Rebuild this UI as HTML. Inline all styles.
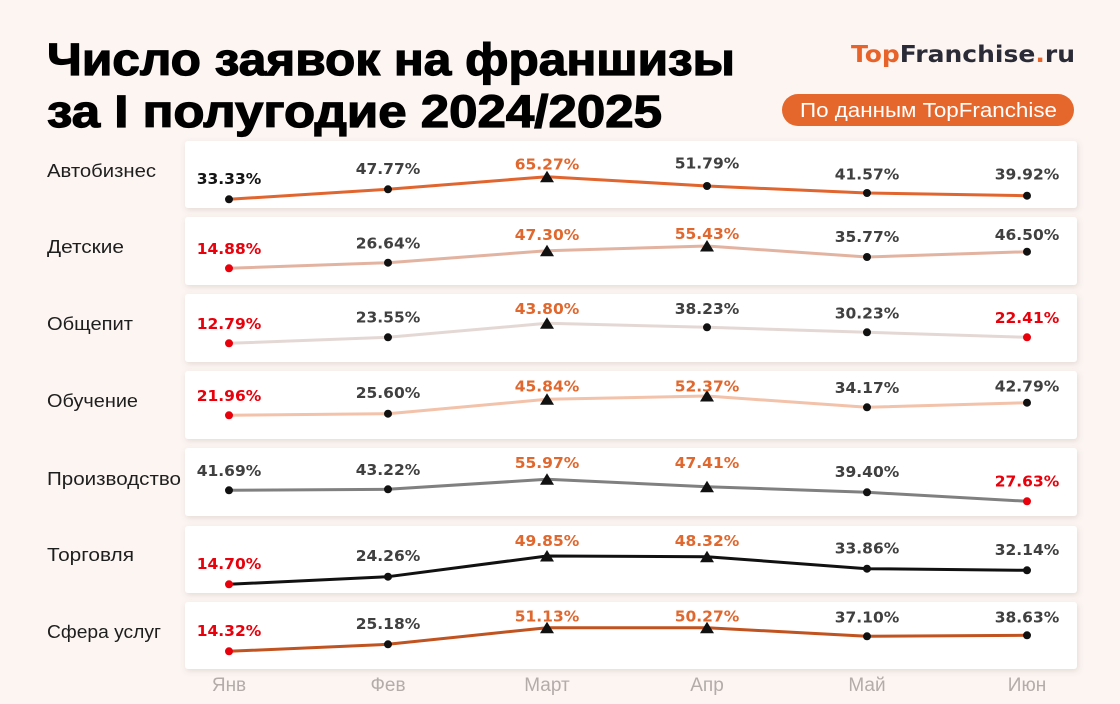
<!DOCTYPE html>
<html><head><meta charset="utf-8">
<style>
html,body{margin:0;padding:0;background:#fcf5f2;}
svg{display:block;}
</style></head>
<body>
<svg width="1120" height="704" viewBox="0 0 1120 704" xmlns="http://www.w3.org/2000/svg">
<defs>
<filter id="sh" x="-5%" y="-30%" width="110%" height="160%">
<feDropShadow dx="1" dy="2" stdDeviation="3" flood-color="#7a5a50" flood-opacity="0.18"/>
</filter>
</defs>
<rect width="1120" height="704" fill="#fcf5f2"/>

<!-- Title -->
<g font-family="'Liberation Sans', 'DejaVu Sans', sans-serif" font-weight="bold" fill="#000" stroke="#000" stroke-width="1.2">
<text x="47" y="75" font-size="45" textLength="688" lengthAdjust="spacingAndGlyphs">Число заявок на франшизы</text>
<text x="47" y="127" font-size="45" textLength="615" lengthAdjust="spacingAndGlyphs">за I полугодие 2024/2025</text>
</g>

<!-- Logo -->
<text x="851" y="62" font-family="'DejaVu Sans', 'Liberation Sans', sans-serif" font-weight="bold" font-size="23" textLength="224" lengthAdjust="spacingAndGlyphs" fill="#2b2b38"><tspan fill="#e8632a">Top</tspan>Franchise<tspan fill="#e8632a">.</tspan>ru</text>

<!-- Badge -->
<rect x="782" y="94" width="292" height="32" rx="16" fill="#e6672c"/>
<text x="800" y="117" font-family="'Liberation Sans', 'DejaVu Sans', sans-serif" font-size="20" fill="#fff" textLength="257" lengthAdjust="spacingAndGlyphs">По данным TopFranchise</text>

<!-- Panels -->
<g filter="url(#sh)" fill="#fff">
<rect x="185" y="141" width="892" height="67" rx="3"/>
<rect x="185" y="217" width="892" height="68" rx="3"/>
<rect x="185" y="294" width="892" height="68" rx="3"/>
<rect x="185" y="371" width="892" height="68" rx="3"/>
<rect x="185" y="448" width="892" height="68" rx="3"/>
<rect x="185" y="526" width="892" height="67" rx="3"/>
<rect x="185" y="602" width="892" height="67" rx="3"/>
</g>

<!-- Row labels -->
<g font-family="'Liberation Sans', 'DejaVu Sans', sans-serif" font-size="18" fill="#1e1e1e">
<text x="47" y="177" textLength="109" lengthAdjust="spacingAndGlyphs">Автобизнес</text>
<text x="47" y="253" textLength="77" lengthAdjust="spacingAndGlyphs">Детские</text>
<text x="47" y="330" textLength="86" lengthAdjust="spacingAndGlyphs">Общепит</text>
<text x="47" y="407" textLength="91" lengthAdjust="spacingAndGlyphs">Обучение</text>
<text x="47" y="485" textLength="134" lengthAdjust="spacingAndGlyphs">Производство</text>
<text x="47" y="561" textLength="87" lengthAdjust="spacingAndGlyphs">Торговля</text>
<text x="47" y="638" textLength="114" lengthAdjust="spacingAndGlyphs">Сфера услуг</text>
</g>

<!-- Lines -->
<g fill="none" stroke-width="3" stroke-linejoin="round" stroke-linecap="round">
<polyline stroke="#e0652f" points="229,199.3 388,189.3 547,176.7 707,186 867,193 1027,195.7"/>
<polyline stroke="#e3b3a1" points="229,268.3 388,262.7 547,250.7 707,246 867,257 1027,251.7"/>
<polyline stroke="#e4d8d4" points="229,343.3 388,337.3 547,323.3 707,327.3 867,332.3 1027,337.3"/>
<polyline stroke="#f2c2aa" points="229,415.3 388,413.7 547,399.3 707,396 867,407.3 1027,402.7"/>
<polyline stroke="#808080" points="229,490.3 388,489.3 547,479.3 707,486.7 867,492.3 1027,501.3"/>
<polyline stroke="#111111" points="229,584.3 388,576.7 547,556 707,556.7 867,568.7 1027,570.3"/>
<polyline stroke="#c0531f" points="229,651.3 388,644.3 547,627.7 707,627.7 867,636.3 1027,635.3"/>
</g>

<!-- Markers -->
<g fill="#111">
<!-- panel 1 -->
<circle cx="229" cy="199.3" r="4"/><circle cx="388" cy="189.3" r="4"/>
<polygon points="547,170.7 554,182.2 540,182.2"/>
<circle cx="707" cy="186" r="4"/><circle cx="867" cy="193" r="4"/><circle cx="1027" cy="195.7" r="4"/>
<!-- panel 2 -->
<circle cx="229" cy="268.3" r="4" fill="#e8000b"/><circle cx="388" cy="262.7" r="4"/>
<polygon points="547,244.7 554,256.2 540,256.2"/>
<polygon points="707,240 714,251.5 700,251.5"/>
<circle cx="867" cy="257" r="4"/><circle cx="1027" cy="251.7" r="4"/>
<!-- panel 3 -->
<circle cx="229" cy="343.3" r="4" fill="#e8000b"/><circle cx="388" cy="337.3" r="4"/>
<polygon points="547,317.3 554,328.8 540,328.8"/>
<circle cx="707" cy="327.3" r="4"/><circle cx="867" cy="332.3" r="4"/>
<circle cx="1027" cy="337.3" r="4" fill="#e8000b"/>
<!-- panel 4 -->
<circle cx="229" cy="415.3" r="4" fill="#e8000b"/><circle cx="388" cy="413.7" r="4"/>
<polygon points="547,393.3 554,404.8 540,404.8"/>
<polygon points="707,390 714,401.5 700,401.5"/>
<circle cx="867" cy="407.3" r="4"/><circle cx="1027" cy="402.7" r="4"/>
<!-- panel 5 -->
<circle cx="229" cy="490.3" r="4"/><circle cx="388" cy="489.3" r="4"/>
<polygon points="547,473.3 554,484.8 540,484.8"/>
<polygon points="707,480.7 714,492.2 700,492.2"/>
<circle cx="867" cy="492.3" r="4"/>
<circle cx="1027" cy="501.3" r="4" fill="#e8000b"/>
<!-- panel 6 -->
<circle cx="229" cy="584.3" r="4" fill="#e8000b"/><circle cx="388" cy="576.7" r="4"/>
<polygon points="547,550 554,561.5 540,561.5"/>
<polygon points="707,550.7 714,562.2 700,562.2"/>
<circle cx="867" cy="568.7" r="4"/><circle cx="1027" cy="570.3" r="4"/>
<!-- panel 7 -->
<circle cx="229" cy="651.3" r="4" fill="#e8000b"/><circle cx="388" cy="644.3" r="4"/>
<polygon points="547,621.7 554,633.2 540,633.2"/>
<polygon points="707,621.7 714,633.2 700,633.2"/>
<circle cx="867" cy="636.3" r="4"/><circle cx="1027" cy="635.3" r="4"/>
</g>

<!-- Value labels -->
<g font-family="'DejaVu Sans', 'Liberation Sans', sans-serif" font-weight="bold" font-size="15.5" text-anchor="middle" fill="#404040">
<!-- panel 1 -->
<text x="229" y="184" fill="#141414">33.33%</text>
<text x="388" y="174">47.77%</text>
<text x="547" y="169.5" fill="#e0682f">65.27%</text>
<text x="707" y="168.5">51.79%</text>
<text x="867" y="179.5">41.57%</text>
<text x="1027" y="179.5">39.92%</text>
<!-- panel 2 -->
<text x="229" y="254" fill="#e8000b">14.88%</text>
<text x="388" y="248.5">26.64%</text>
<text x="547" y="240" fill="#e0682f">47.30%</text>
<text x="707" y="239" fill="#e0682f">55.43%</text>
<text x="867" y="242">35.77%</text>
<text x="1027" y="240">46.50%</text>
<!-- panel 3 -->
<text x="229" y="329" fill="#e8000b">12.79%</text>
<text x="388" y="322.5">23.55%</text>
<text x="547" y="314" fill="#e0682f">43.80%</text>
<text x="707" y="314">38.23%</text>
<text x="867" y="318.5">30.23%</text>
<text x="1027" y="323" fill="#e8000b">22.41%</text>
<!-- panel 4 -->
<text x="229" y="401" fill="#e8000b">21.96%</text>
<text x="388" y="398">25.60%</text>
<text x="547" y="391.5" fill="#e0682f">45.84%</text>
<text x="707" y="391.5" fill="#e0682f">52.37%</text>
<text x="867" y="393">34.17%</text>
<text x="1027" y="391.5">42.79%</text>
<!-- panel 5 -->
<text x="229" y="476">41.69%</text>
<text x="388" y="475">43.22%</text>
<text x="547" y="468" fill="#e0682f">55.97%</text>
<text x="707" y="468" fill="#e0682f">47.41%</text>
<text x="867" y="477">39.40%</text>
<text x="1027" y="486.5" fill="#e8000b">27.63%</text>
<!-- panel 6 -->
<text x="229" y="569" fill="#e8000b">14.70%</text>
<text x="388" y="561">24.26%</text>
<text x="547" y="546" fill="#e0682f">49.85%</text>
<text x="707" y="546" fill="#e0682f">48.32%</text>
<text x="867" y="553.5">33.86%</text>
<text x="1027" y="555">32.14%</text>
<!-- panel 7 -->
<text x="229" y="636" fill="#e8000b">14.32%</text>
<text x="388" y="629">25.18%</text>
<text x="547" y="621.5" fill="#e0682f">51.13%</text>
<text x="707" y="621.5" fill="#e0682f">50.27%</text>
<text x="867" y="622.5">37.10%</text>
<text x="1027" y="622.5">38.63%</text>
</g>

<!-- Month labels -->
<g font-family="'Liberation Sans', 'DejaVu Sans', sans-serif" font-size="19" text-anchor="middle" fill="#b3aca9">
<text x="229" y="691">Янв</text>
<text x="388" y="691">Фев</text>
<text x="547" y="691">Март</text>
<text x="707" y="691">Апр</text>
<text x="867" y="691">Май</text>
<text x="1027" y="691">Июн</text>
</g>
</svg>
</body></html>
